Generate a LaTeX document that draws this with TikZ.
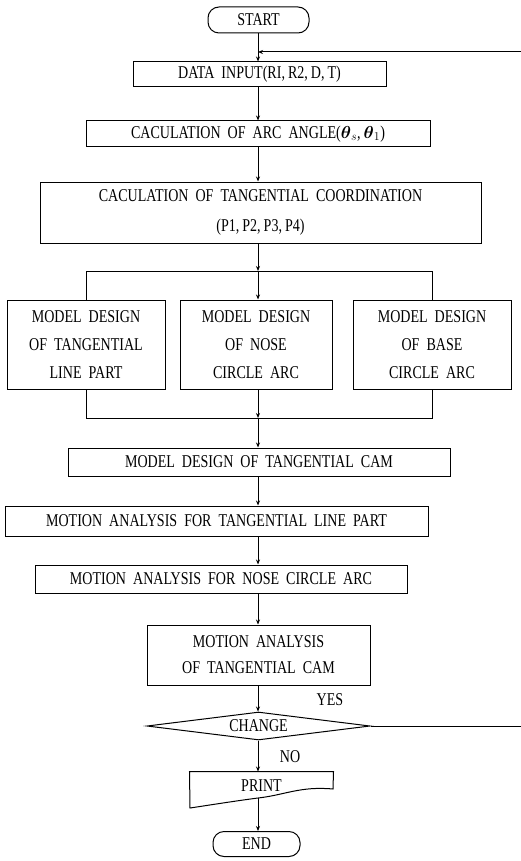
\documentclass[tikz,border=0pt]{standalone}
\usepackage{amsmath}
\usepackage{fontspec}
\setmainfont{Liberation Serif}[FakeStretch=0.78, WordSpace=2.0]
\usetikzlibrary{arrows.meta,shapes.geometric}
\begin{document}
\begin{tikzpicture}[x=1pt,y=-1pt, line width=1pt,
  box/.style={draw, rectangle, inner sep=0pt, align=center, font=\fontsize{18}{28}\selectfont},
  term/.style={draw, rectangle, rounded corners=11pt, inner sep=0pt, font=\fontsize{18}{20}\selectfont},
  arr/.style={-{Stealth[length=5pt,width=4pt]}},
  lbl/.style={inner sep=0pt, font=\fontsize{18}{20}\selectfont}]
\useasboundingbox (0,0) rectangle (520,861);
\coordinate (spine) at (258,0);
\node[term, minimum width=101, minimum height=26] (start) at (258.5,20) {START};
\node[box, minimum width=253, minimum height=25] (data) at (259.5,74.5) {DATA INPUT(RI,\,R2,\,D,\,T)};
\node[box, minimum width=344, minimum height=26] (arc) at (258,134) {CACULATION OF ARC ANGLE($\boldsymbol{\theta}_{s}$,\,$\boldsymbol{\theta}_{1}$)};
\node[box, minimum width=441, minimum height=61, font=\fontsize{18}{30}\selectfont] (coord) at (260.5,212.5) {CACULATION OF TANGENTIAL COORDINATION\\(P1,\,P2,\,P3,\,P4)};
\node[box, minimum width=158, minimum height=89] (left) at (86,344.5) {MODEL DESIGN\\OF TANGENTIAL\\LINE PART};
\node[box, minimum width=152, minimum height=89] (mid) at (256,344.5) {MODEL DESIGN\\OF NOSE\\CIRCLE ARC};
\node[box, minimum width=158, minimum height=89] (right) at (432,344.5) {MODEL DESIGN\\OF BASE\\CIRCLE ARC};
\node[box, minimum width=382, minimum height=28] (tc) at (259,462) {MODEL DESIGN OF TANGENTIAL CAM};
\node[box, minimum width=423, minimum height=30] (mtlp) at (216.5,521) {MOTION ANALYSIS FOR TANGENTIAL LINE PART};
\node[box, minimum width=372, minimum height=28] (nose) at (221,579) {MOTION ANALYSIS FOR NOSE CIRCLE ARC};
\node[box, minimum width=223, minimum height=60, font=\fontsize{18}{26}\selectfont] (ma) at (258.5,655) {MOTION ANALYSIS\\OF TANGENTIAL CAM};
\node[draw, diamond, aspect=8, inner sep=0pt, minimum width=223, minimum height=28, font=\fontsize{18}{20}\selectfont] (chg) at (258.5,726) {CHANGE};
\node[lbl, minimum width=143, minimum height=28] (print) at (261.5,786) {PRINT};
\draw (print.north west) -- (print.north east) -- (333,789)
  .. controls (300,786) and (285,795) .. (258,798)
  .. controls (235,801) and (210,805) .. (190,808) -- cycle;
\coordinate (pbot) at (258,798);
\node[term, minimum width=87, minimum height=25] (end) at (256.5,844) {END};
\node[lbl] (yes) at (330,700) {YES};
\node[lbl] (no) at (290,757) {NO};
% connectors
\coordinate (loopin) at (258,52);
\draw[arr] (start.south -| spine) -- (data.north -| spine);
\draw[arr] (chg.east) -- (523,726) -- (523,52) -- (loopin);
\draw[arr] (data.south -| spine) -- (arc.north -| spine);
\draw[arr] (arc.south -| spine) -- (coord.north -| spine);
\coordinate (bj) at (258,271);
\draw[arr] (coord.south -| spine) -- (bj);
\draw (bj) -| (left.north);
\draw (bj) -| (right.north);
\draw[arr] (bj) -- (mid.north -| spine);
\coordinate (mj) at (258,418);
\draw[arr] (mid.south -| spine) -- (mj);
\draw (left.south) |- (mj);
\draw (right.south) |- (mj);
\draw[arr] (mj) -- (tc.north -| spine);
\draw[arr] (tc.south -| spine) -- (mtlp.north -| spine);
\draw[arr] (mtlp.south -| spine) -- (nose.north -| spine);
\draw[arr] (nose.south -| spine) -- (ma.north -| spine);
\draw[arr] (ma.south -| spine) -- (chg.north -| spine);
\draw[arr] (chg.south -| spine) -- (print.north -| spine);
\draw[arr] (pbot) -- (end.north -| spine);
\end{tikzpicture}
\end{document}
